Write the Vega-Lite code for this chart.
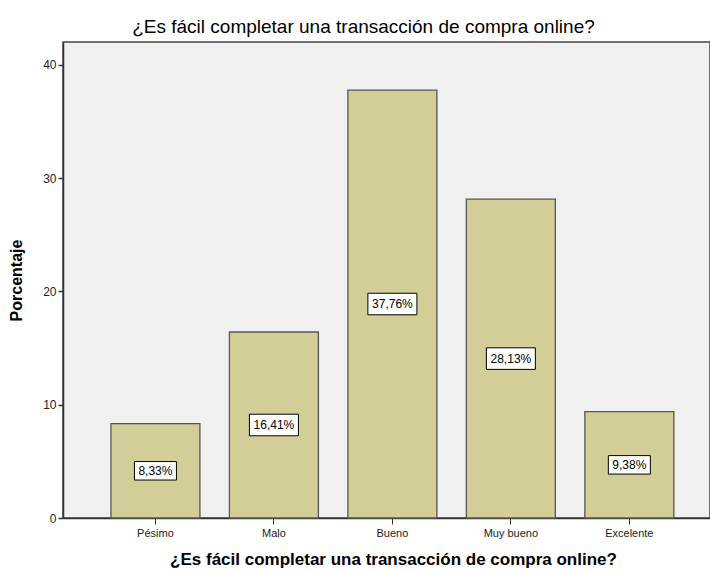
{
  "$schema": "https://vega.github.io/schema/vega-lite/v6.json",
  "autosize": {"type": "none"},
  "padding": {"left": 63, "top": 42, "right": 0, "bottom": 52},
  "width": 647,
  "height": 476,
  "background": "white",
  "title": {
    "text": "¿Es fácil completar una transacción de compra online?",
    "font": "Liberation Sans",
    "fontSize": 19,
    "fontWeight": "normal",
    "color": "#000000",
    "anchor": "middle",
    "dx": -23,
    "offset": 5
  },
  "data": {
    "values": [
      {"cat": "Pésimo", "pct": 8.33, "label": "8,33%"},
      {"cat": "Malo", "pct": 16.41, "label": "16,41%"},
      {"cat": "Bueno", "pct": 37.76, "label": "37,76%"},
      {"cat": "Muy bueno", "pct": 28.13, "label": "28,13%"},
      {"cat": "Excelente", "pct": 9.38, "label": "9,38%"}
    ]
  },
  "transform": [{"calculate": "datum.pct / 2", "as": "mid"}],
  "encoding": {
    "x": {
      "field": "cat",
      "type": "nominal",
      "sort": null,
      "scale": {"paddingInner": 0.249, "paddingOuter": 0.355, "align": 0.57},
      "axis": {
        "title": "¿Es fácil completar una transacción de compra online?",
        "titleFont": "Liberation Sans",
        "titleFontSize": 17,
        "titleFontWeight": "bold",
        "titleColor": "#000000",
        "titleY": 46,
        "titleX": 330,
        "titleBaseline": "alphabetic",
        "labelAngle": 0,
        "labelFont": "Liberation Sans",
        "labelFontSize": 11,
        "labelColor": "#222222",
        "labelPadding": 3,
        "tickSize": 6,
        "tickColor": "#333333",
        "domainColor": "#333333",
        "domainWidth": 1.5
      }
    }
  },
  "layer": [
    {
      "mark": {"type": "bar", "color": "#d3ce97", "stroke": "#555555", "strokeWidth": 1.3},
      "encoding": {
        "y": {
          "field": "pct",
          "type": "quantitative",
          "scale": {"domain": [0, 42], "nice": false},
          "axis": {
            "title": "Porcentaje",
            "titleFont": "Liberation Sans",
            "titleFontSize": 16,
            "titleFontWeight": "bold",
            "titleColor": "#000000",
            "titlePadding": 18,
            "values": [0, 10, 20, 30, 40],
            "labelFont": "Liberation Sans",
            "labelFontSize": 12,
            "labelColor": "#222222",
            "labelPadding": 2,
            "tickSize": 5,
            "tickWidth": 1.5,
            "tickColor": "#333333",
            "domainColor": "#333333",
            "domainWidth": 1.5,
            "grid": false
          }
        }
      }
    },
    {
      "mark": {"type": "point", "filled": true, "fill": "white", "stroke": "#000000", "strokeWidth": 1, "opacity": 1, "shape": "M-1,-0.44H1V0.44H-1Z"},
      "encoding": {
        "y": {"field": "mid", "type": "quantitative"},
        "size": {"condition": {"test": "datum.pct < 10", "value": 1764}, "value": 2401}
      }
    },
    {
      "mark": {"type": "text", "font": "Liberation Sans", "fontSize": 12, "color": "#000000", "baseline": "middle", "align": "center"},
      "encoding": {
        "y": {"field": "mid", "type": "quantitative"},
        "text": {"field": "label"}
      }
    }
  ],
  "config": {
    "view": {"fill": "#f0f0f0", "stroke": "#444444", "strokeWidth": 1.5}
  }
}
